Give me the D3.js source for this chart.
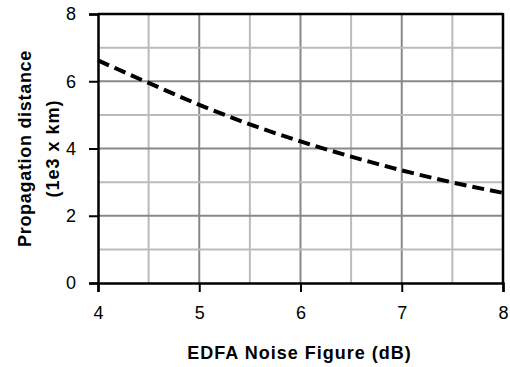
<!DOCTYPE html>
<html>
<head>
<meta charset="utf-8">
<script src="https://cdn.jsdelivr.net/npm/d3@7"></script>
<style>
  html, body { margin: 0; padding: 0; background: #fff; }
  svg { display: block; }
  text { font-family: "Liberation Sans", Arial, sans-serif; fill: #000; }
</style>
</head>
<body>
<script>
// Data
const noiseFigure = [4, 4.5, 5, 5.5, 6, 6.5, 7, 7.5, 8];
const distance = [6.62, 5.95, 5.3, 4.72, 4.21, 3.76, 3.35, 2.99, 2.68];
const xTicks = [4, 5, 6, 7, 8];
const yTicks = [0, 2, 4, 6, 8];
const xMinorGrid = [4.5, 5, 5.5, 6, 6.5, 7, 7.5];
const yGrid = [1, 2, 3, 4, 5, 6, 7];
const xTitle = "EDFA Noise Figure (dB)";
const yTitle = ["Propagation distance", "(1e3 x km)"];

const W = 510, H = 367;
const margin = { left: 98, right: 7, top: 14, bottom: 84 };

const svg = d3.select("body").append("svg").attr("width", W).attr("height", H);

const x = d3.scaleLinear().domain([4, 8]).range([margin.left, W - margin.right]);
const y = d3.scaleLinear().domain([0, 8]).range([H - margin.bottom, margin.top]);

// grid lines
const isMajor = v => Math.abs(v - Math.round(v)) < 1e-9 && (Math.round(v) % 1 === 0);
svg.append("g").selectAll("line").data(xMinorGrid).join("line")
  .attr("x1", d => x(d)).attr("x2", d => x(d))
  .attr("y1", y(0)).attr("y2", y(8))
  .attr("stroke", d => Number.isInteger(d) ? "#888" : "#bbb")
  .attr("stroke-width", 2);
svg.append("g").selectAll("line").data(yGrid).join("line")
  .attr("x1", x(4)).attr("x2", x(8))
  .attr("y1", d => y(d)).attr("y2", d => y(d))
  .attr("stroke", d => d % 2 === 0 ? "#888" : "#bbb")
  .attr("stroke-width", 2);

// frame top and right
svg.append("line").attr("x1", x(4)).attr("x2", x(8)).attr("y1", y(8)).attr("y2", y(8))
  .attr("stroke", "#000").attr("stroke-width", 2.5);
svg.append("line").attr("x1", x(8)).attr("x2", x(8)).attr("y1", y(8) - 1).attr("y2", y(0))
  .attr("stroke", "#000").attr("stroke-width", 2.5);

// axes
const xAxis = d3.axisBottom(x).tickValues(xTicks).tickFormat(d3.format("d")).tickSize(9).tickPadding(14);
const gx = svg.append("g").attr("transform", `translate(0,${y(0)})`).call(xAxis);
gx.select(".domain").attr("stroke", "#000").attr("stroke-width", 2.5);
gx.selectAll(".tick line").attr("stroke", "#000").attr("stroke-width", 2);
gx.selectAll(".tick text").attr("font-size", 18).attr("font-family", "Liberation Sans, Arial, sans-serif");

const yAxis = d3.axisLeft(y).tickValues(yTicks).tickFormat(d3.format("d")).tickSize(9).tickPadding(13);
const gy = svg.append("g").attr("transform", `translate(${x(4)},0)`).call(yAxis);
gy.select(".domain").attr("stroke", "#000").attr("stroke-width", 2.5);
gy.selectAll(".tick line").attr("stroke", "#000").attr("stroke-width", 2);
gy.selectAll(".tick text").attr("font-size", 18).attr("font-family", "Liberation Sans, Arial, sans-serif");

// curve
const line = d3.line().x(d => x(d[0])).y(d => y(d[1])).curve(d3.curveMonotoneX);
svg.append("path")
  .datum(noiseFigure.map((v, i) => [v, distance[i]]))
  .attr("d", line)
  .attr("fill", "none")
  .attr("stroke", "#000")
  .attr("stroke-width", 4)
  .attr("stroke-dasharray", "12,6");

// titles
svg.append("text")
  .attr("x", (x(4) + x(8)) / 2 - 1).attr("y", 359)
  .attr("text-anchor", "middle")
  .attr("font-size", 18).attr("font-weight", "bold")
  .attr("letter-spacing", 1)
  .text(xTitle);

const yc = (y(0) + y(8)) / 2;
svg.append("text")
  .attr("transform", `translate(31,${yc}) rotate(-90)`)
  .attr("text-anchor", "middle")
  .attr("font-size", 18).attr("font-weight", "bold")
  .attr("letter-spacing", 0.7)
  .text(yTitle[0]);
svg.append("text")
  .attr("transform", `translate(59,${yc}) rotate(-90)`)
  .attr("text-anchor", "middle")
  .attr("font-size", 18).attr("font-weight", "bold")
  .attr("letter-spacing", 1)
  .text(yTitle[1]);
</script>
</body>
</html>
